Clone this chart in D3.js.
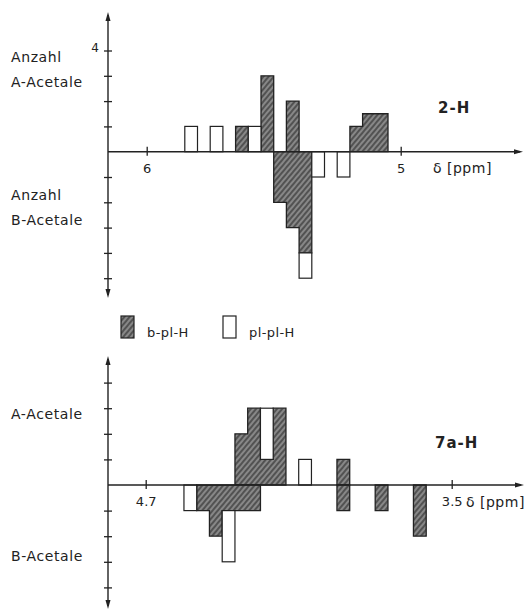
<!DOCTYPE html>
<html>
<head>
<meta charset="utf-8">
<script src="https://cdn.jsdelivr.net/npm/d3@7"></script>
<style>
  body { margin: 0; background: #fff; }
  svg { display: block; }
  text { font-family: "DejaVu Sans", sans-serif; fill: #222; }
</style>
</head>
<body>
<svg id="chart" width="525" height="613"></svg>
<script>
// 0.05 ppm bins, each named by its upper (left) edge
const binWidth = 0.05;

// 2-H panel
const h2Bins = [5.85, 5.80, 5.75, 5.70, 5.65, 5.60, 5.55, 5.50, 5.45, 5.40, 5.35, 5.30, 5.25, 5.20, 5.15, 5.10];
const h2BplA = [0, 0, 0, 0, 1, 0, 3, 0, 2, 0, 0, 0, 0, 1, 1.5, 1.5];
const h2BplB = [0, 0, 0, 0, 0, 0, 0, 2, 3, 4, 0, 0, 0, 0, 0, 0];
const h2PlA  = [1, 0, 1, 0, 0, 1, 0, 0, 0, 0, 0, 0, 0, 0, 0, 0];
const h2PlB  = [0, 0, 0, 0, 0, 0, 0, 0, 0, 1, 1, 0, 1, 0, 0, 0];
const h2Ticks = [6, 5];
const h2YLabels = [['Anzahl', 'A-Acetale'], ['Anzahl', 'B-Acetale']];

// 7a-H panel
const h7Bins = [4.55, 4.50, 4.45, 4.40, 4.35, 4.30, 4.25, 4.20, 4.15, 4.10, 4.05, 4.00, 3.95, 3.90, 3.85, 3.80, 3.75, 3.70, 3.65];
const h7BplA = [0, 0, 0, 0, 2, 3, 1, 3, 0, 0, 0, 0, 1, 0, 0, 0, 0, 0, 0];
const h7BplB = [0, 1, 2, 1, 1, 1, 0, 0, 0, 0, 0, 0, 1, 0, 0, 1, 0, 0, 2];
const h7PlA  = [0, 0, 0, 0, 0, 0, 2, 0, 0, 1, 0, 0, 0, 0, 0, 0, 0, 0, 0];
const h7PlB  = [1, 0, 0, 2, 0, 0, 0, 0, 0, 0, 0, 0, 0, 0, 0, 0, 0, 0, 0];
const h7Ticks = [4.7, 3.5];
const h7YLabels = [['A-Acetale'], ['B-Acetale']];

const legendLabels = ['b-pl-H', 'pl-pl-H'];

const ink = '#222';
const svg = d3.select('#chart');

// hatch pattern for b-pl-H
const defs = svg.append('defs');
const pat = defs.append('pattern')
  .attr('id', 'hatch')
  .attr('patternUnits', 'userSpaceOnUse')
  .attr('width', 4)
  .attr('height', 4)
  .attr('patternTransform', 'rotate(40)');
pat.append('rect').attr('width', 4).attr('height', 4).attr('fill', '#525252');
pat.append('line')
  .attr('x1', 1).attr('x2', 1).attr('y1', 0).attr('y2', 4)
  .attr('stroke', '#bdbdbd').attr('stroke-width', 1);

/**
 * Returns index runs of consecutive non-zero values.
 */
function runs(vals) {
  const out = [];
  let cur = null;
  vals.forEach((v, i) => {
    if (v > 0) {
      if (!cur) { cur = []; out.push(cur); }
      cur.push(i);
    } else cur = null;
  });
  return out;
}

function arrowHead(g, x, y, dir) {
  // dir: 'up' | 'down' | 'right'
  const p = {
    up: [[x, y], [x - 2.5, y + 9], [x + 2.5, y + 9]],
    down: [[x, y], [x - 2.5, y - 9], [x + 2.5, y - 9]],
    right: [[x, y], [x - 9, y - 2.5], [x - 9, y + 2.5]],
  }[dir];
  g.append('path').attr('d', d3.line()(p) + 'Z').attr('fill', ink);
}

function drawPanel(cfg) {
  const { bins, bplA, bplB, plA, plB, x, y, axisX, yTop, yBottom, xEnd } = cfg;
  const g = svg.append('g');
  const line = d3.line()
    .x((d) => x(d[0]))
    .y((d) => y(d[1]))
    .curve(d3.curveStepAfter);

  // hatched b-pl-H blocks, one outline per contiguous run
  [[bplA, 1], [bplB, -1]].forEach(([vals, sign]) => {
    runs(vals).forEach((run) => {
      const last = run[run.length - 1];
      const pts = [[bins[run[0]], 0]];
      run.forEach((i) => pts.push([bins[i], sign * vals[i]]));
      pts.push([bins[last] - binWidth, 0]);
      g.append('path')
        .attr('d', line(pts) + 'Z')
        .attr('fill', 'url(#hatch)')
        .attr('stroke', ink)
        .attr('stroke-width', 1.3);
    });
  });

  // open pl-pl-H bars, stacked on top of the hatched ones
  const open = [];
  plA.forEach((v, i) => { if (v) open.push([bins[i], bplA[i], bplA[i] + v]); });
  plB.forEach((v, i) => { if (v) open.push([bins[i], -bplB[i], -bplB[i] - v]); });
  g.selectAll('rect.open')
    .data(open)
    .join('rect')
    .attr('class', 'open')
    .attr('x', (d) => x(d[0]))
    .attr('width', (d) => x(d[0] - binWidth) - x(d[0]))
    .attr('y', (d) => y(Math.max(d[1], d[2])))
    .attr('height', (d) => Math.abs(y(d[1]) - y(d[2])))
    .attr('fill', '#fff')
    .attr('stroke', ink)
    .attr('stroke-width', 1.2);

  // y axis with crossing ticks
  const [lo, hi] = y.domain();
  const yAxis = g.append('g')
    .attr('transform', `translate(${axisX},0)`)
    .call(
      d3.axisLeft(y)
        .tickValues(d3.range(lo, hi + 1).filter((d) => d !== 0))
        .tickSize(4)
        .tickPadding(5)
        .tickFormat((d) => (cfg.yTickLabels.includes(d) ? d : ''))
    );
  yAxis.select('.domain').remove();
  yAxis.selectAll('.tick line').attr('x1', 4).attr('stroke', ink).attr('stroke-width', 1.3);
  yAxis.selectAll('.tick text')
    .attr('font-family', 'DejaVu Sans')
    .attr('font-size', 12)
    .attr('dy', '0.05em')
    .attr('fill', ink);
  g.append('line')
    .attr('x1', axisX).attr('x2', axisX)
    .attr('y1', yTop + 3).attr('y2', yBottom - 3)
    .attr('stroke', ink).attr('stroke-width', 1.4);
  arrowHead(g, axisX, yTop, 'up');
  arrowHead(g, axisX, yBottom, 'down');

  // x axis
  const xAxis = g.append('g')
    .attr('transform', `translate(0,${y(0)})`)
    .call(
      d3.axisBottom(x)
        .tickValues(cfg.xTicks)
        .tickSize(4)
        .tickPadding(cfg.xPad)
        .tickFormat(d3.format('.1~f'))
    );
  xAxis.select('.domain').remove();
  xAxis.selectAll('.tick line').attr('y1', -5).attr('stroke', ink).attr('stroke-width', 1.3);
  xAxis.selectAll('.tick text')
    .attr('font-family', 'DejaVu Sans')
    .attr('font-size', 13)
    .attr('fill', ink);
  g.append('line')
    .attr('x1', axisX).attr('x2', xEnd - 3)
    .attr('y1', y(0)).attr('y2', y(0))
    .attr('stroke', ink).attr('stroke-width', 1.4);
  arrowHead(g, xEnd, y(0), 'right');

  g.append('text')
    .attr('x', cfg.unitPos[0]).attr('y', cfg.unitPos[1])
    .attr('font-size', 14)
    .attr('letter-spacing', 0.5)
    .text('δ [ppm]');

  g.append('text')
    .attr('x', cfg.titlePos[0]).attr('y', cfg.titlePos[1])
    .attr('font-size', 15)
    .attr('font-weight', 'bold')
    .attr('letter-spacing', 1)
    .text(cfg.title);

  // side labels
  cfg.sideLabels.forEach((lines, j) => {
    const t = g.append('text')
      .attr('x', 11)
      .attr('y', cfg.sideY[j])
      .attr('font-size', 14)
      .attr('letter-spacing', 0.6);
    lines.forEach((s, k) => {
      t.append('tspan').attr('x', 11).attr('dy', k === 0 ? 0 : 25).text(s);
    });
  });
}

// 2-H panel scales
drawPanel({
  bins: h2Bins, bplA: h2BplA, bplB: h2BplB, plA: h2PlA, plB: h2PlB,
  x: d3.scaleLinear().domain([6, 5]).range([146.7, 400.7]),
  y: d3.scaleLinear().domain([-5, 4]).range([151.7 + 5 * 25.3, 151.7 - 4 * 25.3]),
  axisX: 108, yTop: 12, yBottom: 298, xEnd: 523,
  xTicks: h2Ticks, xPad: 8, yTickLabels: [4],
  unitPos: [433, 173], title: '2-H', titlePos: [438, 113],
  sideLabels: h2YLabels, sideY: [62, 200],
});

// 7a-H panel scales
drawPanel({
  bins: h7Bins, bplA: h7BplA, bplB: h7BplB, plA: h7PlA, plB: h7PlB,
  x: d3.scaleLinear().domain([4.7, 3.5]).range([145.7, 451.7]),
  y: d3.scaleLinear().domain([-4, 4]).range([485 + 4 * 25.6, 485 - 4 * 25.6]),
  axisX: 108, yTop: 356, yBottom: 609, xEnd: 524,
  xTicks: h7Ticks, xPad: 7.5, yTickLabels: [],
  unitPos: [466, 507], title: '7a-H', titlePos: [435, 448],
  sideLabels: h7YLabels, sideY: [419, 561],
});

// legend
const legend = svg.append('g');
const legendX = [121, 223];
legendLabels.forEach((label, i) => {
  legend.append('rect')
    .attr('x', legendX[i]).attr('y', 316)
    .attr('width', 13).attr('height', 22)
    .attr('fill', i === 0 ? 'url(#hatch)' : '#fff')
    .attr('stroke', ink).attr('stroke-width', 1.2);
  legend.append('text')
    .attr('x', legendX[i] + 26).attr('y', 337)
    .attr('font-size', 13)
    .attr('letter-spacing', 0.4)
    .text(label);
});
</script>
</body>
</html>
